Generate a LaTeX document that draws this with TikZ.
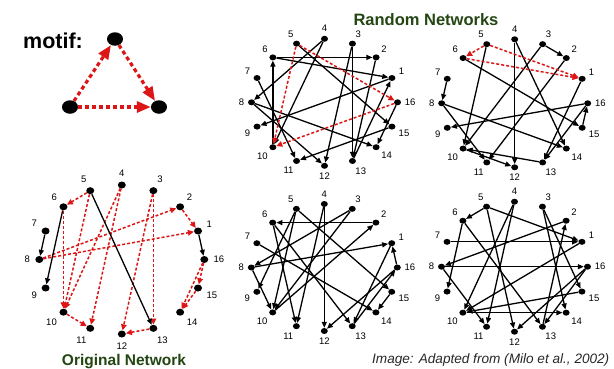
\documentclass[tikz,border=0pt]{standalone}
\usepackage{fontspec}
\setmainfont{Liberation Sans}
\usetikzlibrary{arrows.meta,shapes.geometric}
\definecolor{mred}{RGB}{220,22,22}
\definecolor{tgreen}{RGB}{36,70,18}
\definecolor{capgray}{RGB}{40,40,40}
\tikzset{
  dot/.style={ellipse,fill=black,inner sep=0pt,minimum width=7pt,minimum height=6pt},
  odot/.style={ellipse,fill=black,inner sep=0pt,minimum width=8pt,minimum height=7pt},
  mdot/.style={ellipse,fill=black,inner sep=0pt,minimum width=16pt,minimum height=13.5pt},
  lbl/.style={font=\fontsize{9.5}{10}\selectfont,inner sep=0.5pt},
  bedge/.style={draw=black,line width=1.3pt,-{Triangle[length=6pt,width=5pt]}},
  redge/.style={draw=mred,line width=1.5pt,dash pattern=on 3pt off 2pt,-{Triangle[length=6pt,width=5.5pt]}},
  medge/.style={draw=mred,line width=3.2pt,dash pattern=on 4pt off 3pt,-{Triangle[length=14pt,width=11pt]}},
}
% prefix, cx, cy, rx, ry, dot style, label distance
\newcommand{\netnodes}[7]{%
  \begin{scope}[shift={(#2,#3)}]
    \foreach \k [evaluate=\k as \ang using 22.5*\k] in {1,...,16}
      \node[#6, label={[lbl,label distance=#7]\ang:\k}] (#1\k) at (-\ang:#4 and #5) {};
  \end{scope}}
\begin{document}
\begin{tikzpicture}[x=1pt,y=-1pt]
\fill[white] (0,0) rectangle (614,368);
\useasboundingbox (0,0) rectangle (614,368);

% ---- motif ----
\node[anchor=base west,font=\fontsize{21.5}{24}\selectfont\bfseries,inner sep=0pt] (mtxt) at (23,48) {motif:};
\node[mdot] (m1) at (115,39) {};
\node[mdot] (m2) at (70,107) {};
\node[mdot] (m3) at (159,107) {};
\draw[medge] (m2) -- (m1);
\draw[medge] (m1) -- (m3);
\draw[medge] (m2) -- (m3);

% ---- titles ----
\node[anchor=base,font=\fontsize{16.5}{18}\selectfont\bfseries,text=tgreen,inner sep=0pt] (rtitle) at (426,25) {Random Networks};
\node[anchor=base,font=\fontsize{15.5}{17}\selectfont\bfseries,text=tgreen,inner sep=0pt] (otitle) at (124,365) {Original Network};
\node[anchor=base west,font=\fontsize{13.6}{16}\selectfont\itshape,text=capgray,inner sep=0pt] (cap) at (372,363.5) {Image: Adapted from (Milo et al., 2002)};

% ---- nodes ----
\netnodes{o}{121.8}{259.5}{82.5}{74.5}{odot}{4.5pt}
\netnodes{a}{324.5}{102.3}{73}{63.5}{dot}{3pt}
\netnodes{b}{514.7}{103.3}{73}{64}{dot}{3pt}
\netnodes{c}{324.3}{267.5}{73}{63.5}{dot}{3pt}
\netnodes{d}{514.5}{266.7}{73}{65}{dot}{3pt}

% ---- original network ----
\foreach \s/\t in {5/6,5/10,4/10,4/11,6/10,10/11,3/12,3/13,13/12,8/2,8/1,2/1,16/15,16/14,15/14}
  \draw[redge] (o\s) -- (o\t);
\foreach \s/\t in {7/8,6/9,5/13,1/16}
  \draw[bedge] (o\s) -- (o\t);

% ---- random network 1 ----
\foreach \s/\t in {5/15,4/8,4/10,3/13,3/12,6/2,6/1,16/14,8/14,8/12,1/9,2/13,7/11,10/6,13/1,15/11}
  \draw[bedge] (a\s) -- (a\t);
\foreach \s/\t in {5/16,5/10,16/10}
  \draw[redge] (a\s) -- (a\t);

% ---- random network 2 ----
\foreach \s/\t in {5/10,6/15,3/2,3/10,4/12,4/14,7/8,8/14,8/11,1/13,2/11,10/12,13/10,15/16,16/9,16/13}
  \draw[bedge] (b\s) -- (b\t);
\foreach \s/\t in {5/6,5/1,6/1}
  \draw[redge] (b\s) -- (b\t);

% ---- random network 3 ----
\foreach \s/\t in {2/6,4/12,4/11,3/8,3/10,10/2,8/1,6/13,6/11,7/14,1/13,16/12,16/1,5/9,5/10,5/15,8/10,13/16,15/14}
  \draw[bedge] (c\s) -- (c\t);

% ---- random network 4 ----
\foreach \s/\t in {5/6,5/1,5/12,7/1,8/16,8/11,6/9,6/13,4/10,4/11,2/8,1/10,15/10,10/14,3/14,3/15,13/2,16/12,16/13}
  \draw[bedge] (d\s) -- (d\t);
\end{tikzpicture}
\end{document}
